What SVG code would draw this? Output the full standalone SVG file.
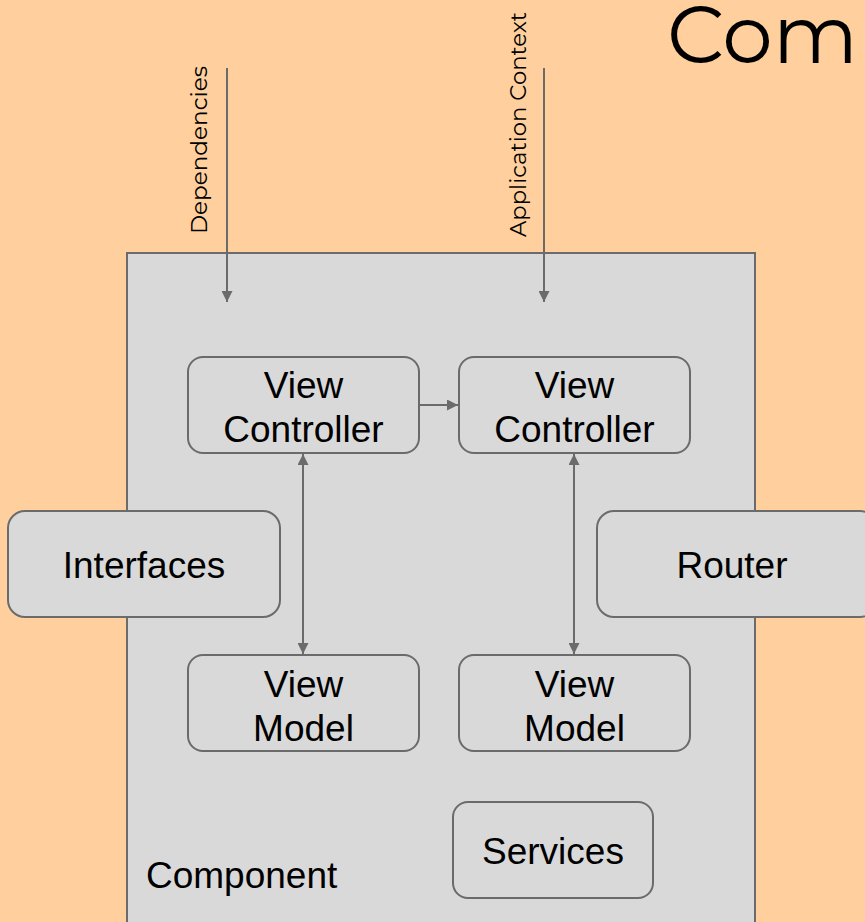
<svg xmlns="http://www.w3.org/2000/svg" width="865" height="922" viewBox="0 0 865 922">
  <style>
    .node { fill: #d9d9d9; stroke: #6b6b6b; stroke-width: 2; }
    .label { font-family: "Liberation Sans", Arial, sans-serif; font-size: 37px; fill: #000; text-anchor: middle; }
    .side { font-family: "Montserrat", "Lato", "Open Sans", sans-serif; font-size: 22px; fill: #000; }
    .wire { stroke: #6b6b6b; stroke-width: 2; fill: none; }
  </style>
  <defs>
    <marker id="head" viewBox="0 0 10 10" refX="10" refY="5" markerWidth="5.5" markerHeight="5.5" orient="auto-start-reverse" markerUnits="strokeWidth">
      <path d="M0,0 L10,5 L0,10 z" fill="#6b6b6b"/>
    </marker>
  </defs>

  <!-- backdrop -->
  <rect x="0" y="0" width="865" height="922" fill="#ffd09e"/>

  <!-- title, running off the right edge -->
  <text x="667" y="63" font-family="Montserrat, Lato, 'Open Sans', sans-serif" font-size="80" textLength="191" lengthAdjust="spacingAndGlyphs" fill="#000">Com</text>

  <!-- component container -->
  <g id="component">
    <rect x="127" y="253" width="628" height="700" fill="#d9d9d9" stroke="#6b6b6b" stroke-width="2"/>
    <text x="146" y="888" class="label" style="text-anchor:start">Component</text>
  </g>

  <!-- inputs -->
  <g id="dependencies-label">
    <text class="side" transform="translate(207,234) rotate(-90)" textLength="168" lengthAdjust="spacingAndGlyphs">Dependencies</text>
  </g>
  <g id="app-context-label">
    <text class="side" transform="translate(526,237) rotate(-90)" textLength="225" lengthAdjust="spacingAndGlyphs">Application Context</text>
  </g>

  <g id="view-controller-1">
    <rect class="node" x="188" y="357" width="231" height="96" rx="15"/>
    <text class="label" x="303.5" y="398">View</text>
    <text class="label" x="303.5" y="442">Controller</text>
  </g>
  <g id="view-controller-2">
    <rect class="node" x="459" y="357" width="231" height="96" rx="15"/>
    <text class="label" x="574.5" y="398">View</text>
    <text class="label" x="574.5" y="442">Controller</text>
  </g>
  <g id="view-model-1">
    <rect class="node" x="188" y="655" width="231" height="96" rx="15"/>
    <text class="label" x="303.5" y="697">View</text>
    <text class="label" x="303.5" y="741">Model</text>
  </g>
  <g id="view-model-2">
    <rect class="node" x="459" y="655" width="231" height="96" rx="15"/>
    <text class="label" x="574.5" y="697">View</text>
    <text class="label" x="574.5" y="741">Model</text>
  </g>
  <g id="interfaces">
    <rect class="node" x="8" y="511" width="272" height="106" rx="17"/>
    <text class="label" x="144" y="578">Interfaces</text>
  </g>
  <g id="router">
    <rect class="node" x="597" y="511" width="280" height="106" rx="17"/>
    <text class="label" x="732" y="578">Router</text>
  </g>
  <g id="services">
    <rect class="node" x="453" y="802" width="200" height="96" rx="15"/>
    <text class="label" x="553" y="864">Services</text>
  </g>

  <g id="connectors">
    <line class="wire" x1="227" y1="68" x2="227" y2="302" marker-end="url(#head)"/>
    <line class="wire" x1="544" y1="68" x2="544" y2="302" marker-end="url(#head)"/>
    <line class="wire" x1="419" y1="405" x2="458" y2="405" marker-end="url(#head)"/>
    <line class="wire" x1="303" y1="454" x2="303" y2="654" marker-start="url(#head)" marker-end="url(#head)"/>
    <line class="wire" x1="574" y1="454" x2="574" y2="654" marker-start="url(#head)" marker-end="url(#head)"/>
  </g>
</svg>
